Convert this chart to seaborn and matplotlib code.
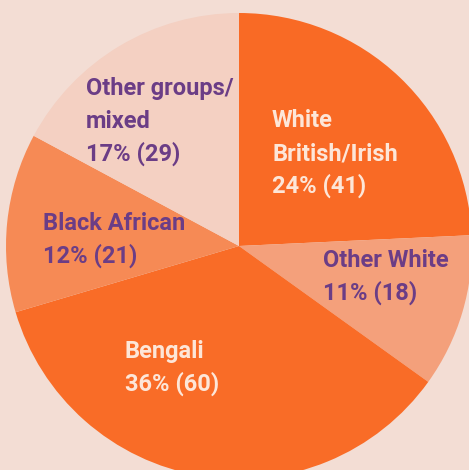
import matplotlib
matplotlib.use("Agg")
import matplotlib.pyplot as plt
from matplotlib import font_manager
import seaborn as sns

# Survey respondents by ethnic group
groups = ["White\nBritish/Irish", "Other White", "Bengali", "Black African", "Other groups/\nmixed"]
counts = [41, 18, 60, 21, 29]
percents = [24, 11, 36, 12, 17]
slice_colors = ["#f96a25", "#f4a07b", "#f96c27", "#f68a55", "#f4d0c2"]
text_colors = ["#fde6d8", "#6b3d86", "#fde6d8", "#6b3d86", "#6b3d86"]
# left x and first-line baseline of each label, in pixels from the top-left
label_pos = [(272, 127), (323, 267), (125, 358), (43, 230), (86, 95)]

W, H = 469, 470
sns.set_theme(style="white")

installed = {f.name for f in font_manager.fontManager.ttflist}
if "Roboto" in installed:
    label_font, label_size = "Roboto", 17
else:
    label_font, label_size = "Liberation Sans", 16
plt.rcParams["font.family"] = [label_font, "DejaVu Sans"]

bg = "#f3ddd4"
fig = plt.figure(figsize=(W / 100, H / 100), dpi=100, facecolor=bg)
ax = fig.add_axes([0, 0, 1, 1])
ax.set_facecolor(bg)

ax.pie(counts, colors=slice_colors, startangle=90, counterclock=False,
       center=(239, H - 246), radius=233,
       wedgeprops=dict(linewidth=0))

line_gap = 33
for name, pct, n, col, (x, y) in zip(groups, percents, counts, text_colors, label_pos):
    lines = name.split("\n") + [f"{pct}% ({n})"]
    for i, line in enumerate(lines):
        ax.text(x, H - (y + i * line_gap), line, color=col, fontsize=label_size,
                fontweight="bold", ha="left", va="baseline")

ax.set_xlim(0, W)
ax.set_ylim(0, H)
ax.set_aspect("equal")
ax.axis("off")
fig.savefig("out.png", dpi=100, facecolor=bg)
